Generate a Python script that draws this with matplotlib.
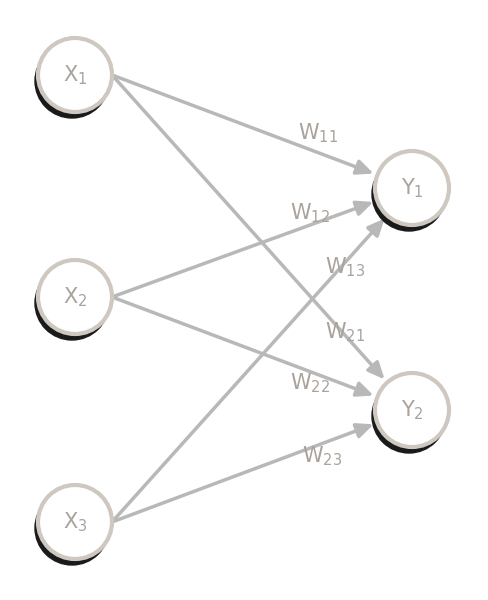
import numpy as np
import matplotlib.pyplot as plt
from matplotlib.patches import Circle

inputs = {'X$_1$': (75, 75), 'X$_2$': (75, 297), 'X$_3$': (75, 522)}
outputs = {'Y$_1$': (412, 188), 'Y$_2$': (412, 410)}
edges = [('X$_1$', 'Y$_1$'), ('X$_1$', 'Y$_2$'), ('X$_2$', 'Y$_1$'),
         ('X$_2$', 'Y$_2$'), ('X$_3$', 'Y$_1$'), ('X$_3$', 'Y$_2$')]
weight_labels = ['W$_{11}$', 'W$_{12}$', 'W$_{13}$', 'W$_{21}$', 'W$_{22}$', 'W$_{23}$']
label_pos = [(318, 133), (310, 213), (345, 267), (345, 332), (310, 383), (322, 456)]

fig = plt.figure(figsize=(4.88, 6.0), dpi=100)
ax = fig.add_axes([0, 0, 1, 1])
ax.set_xlim(0, 488)
ax.set_ylim(600, 0)
ax.axis('off')

nodes = {**inputs, **outputs}
r = 37
line_c = '#b8b8b8'
ring_c = '#cfc8c1'
text_c = '#aaa29b'

for a, b in edges:
    (x0, y0), (x1, y1) = nodes[a], nodes[b]
    sx, sy = x0 + r, y0
    d = np.hypot(x1 - sx, y1 - sy)
    ux, uy = (x1 - sx) / d, (y1 - sy) / d
    ax.annotate('', xy=(x1 - ux * (r + 4), y1 - uy * (r + 4)),
                xytext=(sx, sy),
                arrowprops=dict(arrowstyle='-|>,head_length=1.0,head_width=0.45',
                                color=line_c, lw=2.5, shrinkA=0, shrinkB=0))

for name, (x, y) in nodes.items():
    ax.add_patch(Circle((x - 3, y + 6), r, color='#1a1a1a', zorder=3))
    ax.add_patch(Circle((x, y), r, facecolor='white', edgecolor=ring_c, lw=3, zorder=4))
    ax.text(x, y, name, ha='center', va='center', fontsize=15, color=text_c, zorder=5)

for lab, (x, y) in zip(weight_labels, label_pos):
    ax.text(x, y, lab, ha='center', va='center', fontsize=15, color=text_c, zorder=6)

plt.savefig('out.png', dpi=100)
plt.close()
